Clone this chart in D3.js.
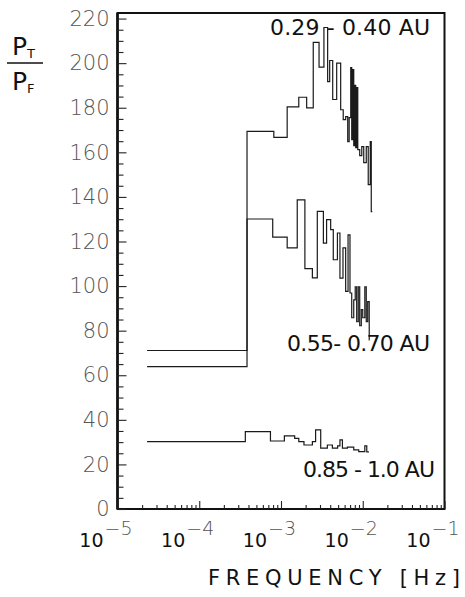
<!DOCTYPE html>
<html>
<head>
<meta charset="utf-8">
<script src="https://cdn.jsdelivr.net/npm/d3@7"></script>
<style>
  body { margin: 0; background: #fff; }
  svg text { font-family: "DejaVu Sans", "Liberation Sans", sans-serif; }
</style>
</head>
<body>
<svg id="chart" width="465" height="597"></svg>
<script>
// Power ratio P_T / P_F versus frequency, binned spectra for three heliocentric distance ranges.
// Each series: bin edges in Hz (n+1) and one ratio value per bin (n).
const innerEdges = [2.30e-5, 3.84e-4, 8.17e-4, 1.19e-3, 1.65e-3, 2.06e-3, 2.48e-3, 2.92e-3, 3.35e-3,
  3.72e-3, 3.94e-3, 4.29e-3, 4.80e-3, 5.37e-3, 5.77e-3, 6.18e-3, 6.55e-3, 6.82e-3, 7.13e-3, 7.33e-3,
  7.53e-3, 7.76e-3, 7.98e-3, 8.20e-3, 8.43e-3, 8.69e-3, 9.18e-3, 9.73e-3, 1.028e-2, 1.104e-2,
  1.167e-2, 1.236e-2, 1.271e-2, 1.309e-2];
const innerRatio = [71.1, 169.4, 166.7, 180.4, 184.7, 179.9, 209.3, 198.2, 216, 191.7, 201.2, 183.7,
  200, 179.1, 174.7, 176, 164.8, 175.6, 198, 165.7, 197.1, 163, 190, 162.1, 189, 161.2, 158.5,
  162.6, 155.4, 162.6, 145.5, 164.8, 133.4];

const middleEdges = [2.30e-5, 3.84e-4, 7.92e-4, 1.19e-3, 1.58e-3, 1.96e-3, 2.42e-3, 2.78e-3, 3.30e-3,
  3.61e-3, 4.05e-3, 4.36e-3, 4.90e-3, 5.26e-3, 5.73e-3, 6.18e-3, 6.61e-3, 6.98e-3, 7.33e-3, 7.76e-3,
  8.09e-3, 8.43e-3, 8.81e-3, 9.18e-3, 9.60e-3, 1.0e-2, 1.06e-2, 1.104e-2, 1.15e-2, 1.20e-2, 1.215e-2];
const middleRatio = [63.9, 130.1, 122, 117.1, 138.7, 107.8, 103.7, 133.5, 119.3, 129.8, 125.3, 111.8,
  123.8, 103.6, 117.1, 97.6, 123, 96.9, 85.8, 93.8, 99.7, 84, 99.7, 82.2, 89.4, 85.8, 99.7, 84, 93, 75.9];

const outerEdges = [2.30e-5, 3.66e-4, 7.43e-4, 1.10e-3, 1.47e-3, 1.65e-3, 1.91e-3, 2.42e-3, 2.65e-3,
  3.06e-3, 3.69e-3, 4.25e-3, 4.93e-3, 5.26e-3, 5.64e-3, 6.49e-3, 7.76e-3, 8.93e-3, 1.06e-2, 1.12e-2, 1.19e-2];
const outerRatio = [30.2, 34.7, 30.5, 32.8, 31.7, 30.2, 28.7, 30.2, 35.5, 27.3, 28.7, 27.3, 28.3, 31,
  27.3, 27.8, 26.5, 25.7, 28.3, 25.6];

const seriesLabels = ["0.29 - 0.40 AU", "0.55- 0.70 AU", "0.85 - 1.0 AU"];
const yMajorTicks = d3.range(0, 221, 20);
const yMinorTicks = d3.range(0, 221, 5).filter(v => v % 20 !== 0);
const xDecades = [1e-5, 1e-4, 1e-3, 1e-2, 1e-1];
const xExponents = ["\u22125", "\u22124", "\u22123", "\u22122", "\u22121"];

const svg = d3.select("#chart");
const x = d3.scaleLog().domain([1e-5, 1e-1]).range([117.5, 444.5]);
const y = d3.scaleLinear().domain([0, 222.5]).range([509, 13]);

// frame
svg.append("rect")
  .attr("x", x(1e-5)).attr("y", y(222.5))
  .attr("width", x(1e-1) - x(1e-5)).attr("height", y(0) - y(222.5))
  .attr("fill", "none").attr("stroke", "#111").attr("stroke-width", 2);
svg.append("line")
  .attr("x1", x(1e-5)).attr("x2", x(1e-5)).attr("y1", y(222.5)).attr("y2", y(0))
  .attr("stroke", "#111").attr("stroke-width", 2.6);

// y axis: major ticks with labels, minor ticks without
const yMajor = svg.append("g").attr("transform", `translate(${x(1e-5)},0)`)
  .call(d3.axisLeft(y).tickValues(yMajorTicks).tickSizeInner(-9).tickSizeOuter(0).tickPadding(8));
const yMinor = svg.append("g").attr("transform", `translate(${x(1e-5)},0)`)
  .call(d3.axisLeft(y).tickValues(yMinorTicks).tickSizeInner(-6).tickSizeOuter(0).tickFormat(""));
[yMajor, yMinor].forEach(g => {
  g.select(".domain").remove();
  g.selectAll(".tick line").attr("stroke", "#222").attr("stroke-width", 1.1);
});
yMajor.selectAll(".tick text")
  .attr("font-size", 21).attr("font-weight", 200).attr("fill", "#555")
  .attr("font-family", "'DejaVu Sans', sans-serif");

// x axis: decade ticks and 2..9 minor ticks
const xMinorTicks = [];
xDecades.slice(0, -1).forEach(d => { for (let k = 2; k <= 9; k++) xMinorTicks.push(d * k); });
const xMajor = svg.append("g").attr("transform", `translate(0,${y(0)})`)
  .call(d3.axisBottom(x).tickValues(xDecades).tickSizeInner(-8).tickSizeOuter(0).tickFormat(""));
const xMinor = svg.append("g").attr("transform", `translate(0,${y(0)})`)
  .call(d3.axisBottom(x).tickValues(xMinorTicks).tickSizeInner(-4).tickSizeOuter(0).tickFormat(""));
[xMajor, xMinor].forEach(g => {
  g.select(".domain").remove();
  g.selectAll(".tick line").attr("stroke", "#222").attr("stroke-width", 1.1);
});

// decade labels: base "10" and a raised exponent centred on the tick
const xl = svg.append("g");
xDecades.forEach((d, i) => {
  xl.append("text").attr("x", x(d) - 14).attr("y", 547)
    .attr("text-anchor", "end").attr("font-size", 19).attr("fill", "#111").text("10");
  xl.append("text").attr("x", x(d) + 1).attr("y", 535)
    .attr("text-anchor", "middle").attr("font-size", 19).attr("font-weight", 200)
    .attr("fill", "#555").text(xExponents[i]);
});

svg.append("text").attr("x", 208).attr("y", 585)
  .attr("font-size", 21).attr("fill", "#111")
  .attr("textLength", 252).attr("lengthAdjust", "spacing")
  .text("FREQUENCY [Hz]");

// y title: P_T over P_F
const yt = svg.append("g").attr("fill", "#111");
const pt = yt.append("text").attr("x", 12).attr("y", 55).attr("font-size", 25);
pt.append("tspan").text("P");
pt.append("tspan").attr("font-size", 13).attr("dy", 3).text("T");
yt.append("line").attr("x1", 7).attr("x2", 43).attr("y1", 63).attr("y2", 63)
  .attr("stroke", "#111").attr("stroke-width", 1.6);
const pf = yt.append("text").attr("x", 12).attr("y", 90).attr("font-size", 25);
pf.append("tspan").text("P");
pf.append("tspan").attr("font-size", 13).attr("dy", 3).text("F");

// step histograms
function stepPoints(edges, vals) {
  const pts = [];
  vals.forEach((v, i) => { pts.push([edges[i], v]); pts.push([edges[i + 1], v]); });
  return pts;
}
const line = d3.line().x(d => x(d[0])).y(d => y(d[1]));
[[innerEdges, innerRatio], [middleEdges, middleRatio], [outerEdges, outerRatio]].forEach(([e, v]) => {
  svg.append("path").attr("d", line(stepPoints(e, v)))
    .attr("fill", "none").attr("stroke", "#1a1a1a").attr("stroke-width", 1.2)
    .attr("stroke-linejoin", "miter");
});

// distance labels
const labelPos = [[270, 35, 160], [287, 351, 143], [303, 477, 132]];
seriesLabels.forEach((t, i) => {
  const [lx, ly, lw] = labelPos[i];
  svg.append("text").attr("x", lx).attr("y", ly)
    .attr("font-size", 22).attr("fill", "#111")
    .attr("textLength", lw).attr("lengthAdjust", "spacing").text(t);
});
</script>
</body>
</html>
